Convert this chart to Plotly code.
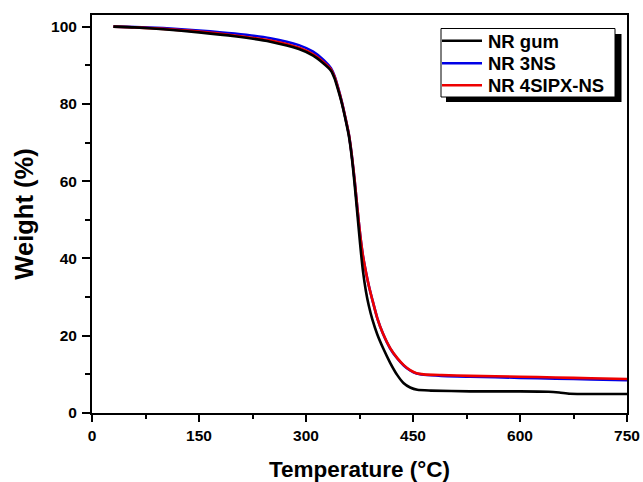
import plotly.graph_objects as go

# ---- data ----
temp_gum = [30, 60, 100, 150, 200, 250, 290, 310, 325, 335, 340, 345, 350, 355, 360, 364, 368, 372, 376, 380,
            384, 388, 393, 400, 408, 418, 428, 437, 446, 456, 475, 530, 600, 640, 655, 670, 700, 750]
w_gum = [100, 99.8, 99.3, 98.5, 97.5, 96.1, 94.2, 92.5, 90.4, 88.6, 86.6, 83.6, 80.3, 76.3, 71.8, 66.5, 59.5, 51.5, 43.5, 36.5,
         31.5, 27.8, 24.2, 20.3, 16.8, 13.0, 9.8, 7.7, 6.6, 6.0, 5.8, 5.6, 5.6, 5.5, 5.3, 5.0, 4.9, 4.9]

temp_3ns = [30, 60, 100, 150, 200, 250, 290, 310, 325, 335, 340, 345, 350, 355, 360, 364, 368, 372, 376, 380,
            384, 388, 393, 400, 408, 418, 428, 437, 446, 455, 465, 490, 530, 600, 650, 700, 750]
w_3ns = [100, 99.9, 99.6, 99.0, 98.2, 97.0, 95.2, 93.5, 91.3, 89.2, 87.2, 84.2, 80.7, 76.6, 72.2, 67.0, 60.5, 53.0, 46.0, 40.5,
         36.5, 33.0, 29.3, 24.5, 20.5, 16.7, 14.1, 12.3, 11.0, 10.2, 9.9, 9.6, 9.4, 9.1, 8.9, 8.7, 8.5]

temp_4sipx = [30, 60, 100, 150, 200, 250, 290, 310, 325, 335, 340, 345, 350, 355, 360, 364, 368, 372, 376, 380,
              384, 388, 393, 400, 408, 418, 428, 437, 446, 455, 465, 490, 530, 600, 650, 700, 750]
w_4sipx = [100, 99.8, 99.4, 98.7, 97.7, 96.4, 94.5, 92.8, 90.7, 88.9, 87.0, 84.0, 80.6, 76.6, 72.2, 67.0, 60.5, 53.0, 46.0, 40.5,
           36.5, 33.0, 29.3, 24.5, 20.5, 16.8, 14.2, 12.4, 11.1, 10.3, 10.0, 9.8, 9.6, 9.4, 9.2, 9.0, 8.8]

series_names = ["NR gum", "NR 3NS", "NR 4SIPX-NS"]
series_colors = ["#000000", "#0000e6", "#ee0000"]

x_ticks = [0, 150, 300, 450, 600, 750]
y_ticks = [0, 20, 40, 60, 80, 100]

FONT = "Liberation Sans, Arial, sans-serif"

fig = go.Figure()
# draw order: blue, red, black (black on top)
for idx in (1, 2, 0):
    xs = [temp_gum, temp_3ns, temp_4sipx][idx]
    ys = [w_gum, w_3ns, w_4sipx][idx]
    fig.add_trace(go.Scatter(x=xs, y=ys, mode="lines", name=series_names[idx], showlegend=False,
                             line=dict(color=series_colors[idx], width=2.6, shape="spline", smoothing=0.6)))

L, R, T, B = 92, 16, 15, 69
W, H = 643, 482
pw, ph = W - L - R, H - T - B

def px_x(p):
    return (p - L) / pw

def px_y(p):
    return (H - B - p) / ph

# legend: drop shadow, framed box, line samples and labels
fig.add_shape(type="rect", xref="paper", yref="paper",
              x0=px_x(446), x1=px_x(621.5), y0=px_y(102), y1=px_y(34),
              fillcolor="black", line=dict(width=0), layer="above")
fig.add_shape(type="rect", xref="paper", yref="paper",
              x0=px_x(441), x1=px_x(615), y0=px_y(97), y1=px_y(28.5),
              fillcolor="white", line=dict(color="black", width=1), layer="above")
legend_rows = [40.7, 63.3, 85.3]
for name, color, ry in zip(series_names, series_colors, legend_rows):
    fig.add_shape(type="line", xref="paper", yref="paper",
                  x0=px_x(442), x1=px_x(482), y0=px_y(ry), y1=px_y(ry),
                  line=dict(color=color, width=2.6), layer="above")
    fig.add_annotation(text=name, xref="paper", yref="paper", x=px_x(486), y=px_y(ry + 0.5),
                       xanchor="left", yanchor="middle", showarrow=False,
                       font=dict(family=FONT, size=18.5, color="black", weight="bold"))

fig.update_layout(
    template="none",
    width=W, height=H, autosize=False,
    margin=dict(l=L, r=R, t=T, b=B),
    paper_bgcolor="white", plot_bgcolor="white",
    font=dict(family=FONT, color="black", weight="bold"),
    showlegend=False,
    xaxis=dict(range=[0, 750], tickvals=x_ticks, ticktext=[str(v) for v in x_ticks],
               automargin=False,
               ticks="outside", ticklen=7, tickwidth=2, tickcolor="black",
               showline=True, linewidth=2, linecolor="black", mirror=True,
               showgrid=False, zeroline=False,
               tickfont=dict(family=FONT, size=15.5, color="black", weight="bold"),
               minor=dict(dtick=75, tick0=0, ticks="outside", ticklen=4, tickwidth=2, tickcolor="black", showgrid=False),
               title=dict(text="Temperature (°C)", standoff=20,
                          font=dict(family=FONT, size=22.5, color="black", weight="bold"))),
    yaxis=dict(range=[0, 103], tickvals=y_ticks, ticktext=[str(v) for v in y_ticks],
               automargin=False, ticklabelstandoff=2,
               ticks="outside", ticklen=8, tickwidth=2, tickcolor="black",
               showline=True, linewidth=2, linecolor="black", mirror=True,
               showgrid=False, zeroline=False,
               tickfont=dict(family=FONT, size=15.5, color="black", weight="bold"),
               minor=dict(dtick=10, tick0=0, ticks="outside", ticklen=5, tickwidth=2, tickcolor="black", showgrid=False),
               title=dict(text="Weight (%)", standoff=10,
                          font=dict(family=FONT, size=25.5, color="black", weight="bold"))),
)

fig.write_html("out.html", config={"displayModeBar": False},
               post_script="document.body.style.margin='0';document.body.style.overflow='hidden';")
